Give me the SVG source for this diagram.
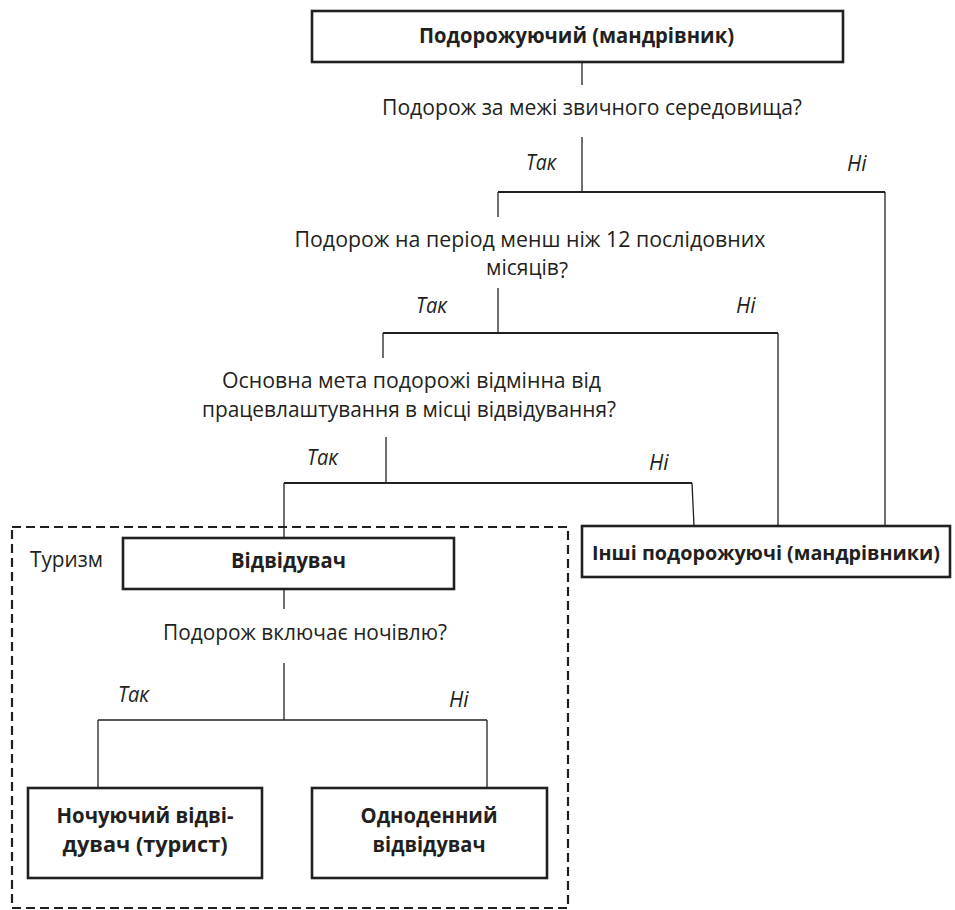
<svg xmlns="http://www.w3.org/2000/svg" width="955" height="910" viewBox="0 0 955 910">
<style>
  text { font-family: "Open Sans", "Noto Sans", "Liberation Sans", sans-serif; fill: #231f20; font-size: 21px; }
  .b { font-weight: bold; }
  .i { font-style: italic; font-size: 21px; }
  .box { fill: #ffffff; stroke: #231f20; stroke-width: 2.6; }
  .h { stroke: #231f20; stroke-width: 2; fill: none; }
  .v { stroke: #231f20; stroke-width: 1.3; fill: none; }
  .dash { fill: none; stroke: #231f20; stroke-width: 2.2; stroke-dasharray: 9 5; }
</style>
<rect width="955" height="910" fill="#ffffff"/>

<g id="tourism-frame">
  <rect class="dash" x="12" y="527" width="556" height="381"/>
  <text x="30" y="567" textLength="73" lengthAdjust="spacingAndGlyphs">Туризм</text>
</g>

<g id="connectors">
  <line class="v" x1="582" y1="62" x2="582" y2="85"/>
  <line class="v" x1="582" y1="137" x2="582" y2="192"/>
  <line class="h" x1="498" y1="192" x2="885" y2="192"/>
  <line class="v" x1="498" y1="192" x2="498" y2="217"/>
  <line class="v" x1="885" y1="192" x2="885" y2="526"/>

  <line class="v" x1="498" y1="288" x2="498" y2="333"/>
  <line class="h" x1="383" y1="333" x2="778" y2="333"/>
  <line class="v" x1="383" y1="333" x2="383" y2="358"/>
  <line class="v" x1="778" y1="333" x2="778" y2="526"/>

  <line class="v" x1="386" y1="437" x2="386" y2="483"/>
  <line class="h" x1="284" y1="483" x2="692" y2="483"/>
  <line class="v" x1="284" y1="483" x2="284" y2="538"/>
  <line class="v" x1="692" y1="483" x2="694" y2="526"/>

  <line class="v" x1="284" y1="589" x2="284" y2="609"/>
  <line class="v" x1="284" y1="663" x2="284" y2="720"/>
  <line class="v" x1="98" y1="720" x2="487" y2="720"/>
  <line class="v" x1="98" y1="720" x2="98" y2="788"/>
  <line class="v" x1="487" y1="720" x2="487" y2="788"/>
</g>

<g id="traveller">
  <rect class="box" x="312" y="11" width="531" height="51"/>
  <text class="b" x="576.5" y="43" text-anchor="middle" textLength="315" lengthAdjust="spacingAndGlyphs">Подорожуючий (мандрівник)</text>
</g>

<g id="q1">
  <text x="592" y="115" text-anchor="middle" textLength="420" lengthAdjust="spacingAndGlyphs">Подорож за межі звичного середовища?</text>
  <text class="i" x="526" y="170" textLength="30" lengthAdjust="spacingAndGlyphs">Так</text>
  <text class="i" x="847" y="171">Ні</text>
</g>

<g id="q2">
  <text x="530" y="247" text-anchor="middle" textLength="471" lengthAdjust="spacingAndGlyphs">Подорож на період менш ніж 12 послідовних</text>
  <text x="486" y="275">місяців<tspan dy="3">?</tspan></text>
  <text class="i" x="416" y="313" textLength="31" lengthAdjust="spacingAndGlyphs">Так</text>
  <text class="i" x="736" y="313">Ні</text>
</g>

<g id="q3">
  <text x="411.5" y="388" text-anchor="middle" textLength="379" lengthAdjust="spacingAndGlyphs">Основна мета подорожі відмінна від</text>
  <text x="409" y="417" text-anchor="middle" textLength="414" lengthAdjust="spacingAndGlyphs">працевлаштування в місці відвідування?</text>
  <text class="i" x="307" y="465" textLength="31" lengthAdjust="spacingAndGlyphs">Так</text>
  <text class="i" x="649" y="470">Ні</text>
</g>

<g id="other-travellers">
  <rect class="box" x="582" y="526" width="368" height="51"/>
  <text class="b" x="766" y="560" text-anchor="middle" style="font-size:19px" textLength="348" lengthAdjust="spacingAndGlyphs">Інші подорожуючі (мандрівники)</text>
</g>

<g id="visitor">
  <rect class="box" x="123" y="538" width="331" height="51"/>
  <text class="b" x="288.5" y="568" text-anchor="middle" textLength="115" lengthAdjust="spacingAndGlyphs">Відвідувач</text>
</g>

<g id="q4">
  <text x="305" y="640" text-anchor="middle" textLength="284" lengthAdjust="spacingAndGlyphs">Подорож включає ночівлю?</text>
  <text class="i" x="118" y="702" textLength="31" lengthAdjust="spacingAndGlyphs">Так</text>
  <text class="i" x="449" y="707">Ні</text>
</g>

<g id="overnight-visitor">
  <rect class="box" x="28" y="788" width="234" height="90"/>
  <text class="b" x="145" y="823" text-anchor="middle" textLength="177" lengthAdjust="spacingAndGlyphs">Ночуючий відві-</text>
  <text class="b" x="145" y="852" text-anchor="middle" textLength="165" lengthAdjust="spacingAndGlyphs">дувач (турист)</text>
</g>

<g id="same-day-visitor">
  <rect class="box" x="312" y="788" width="235" height="90"/>
  <text class="b" x="429" y="823" text-anchor="middle" textLength="137" lengthAdjust="spacingAndGlyphs">Одноденний</text>
  <text class="b" x="429" y="852" text-anchor="middle" textLength="113" lengthAdjust="spacingAndGlyphs">відвідувач</text>
</g>
</svg>
